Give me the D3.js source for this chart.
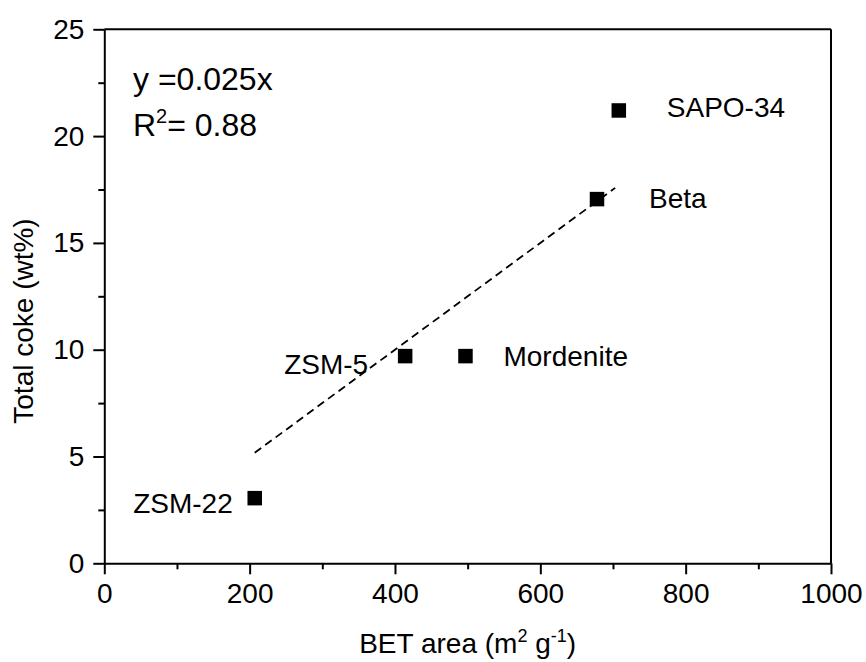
<!DOCTYPE html>
<html>
<head>
<meta charset="utf-8">
<script src="https://cdn.jsdelivr.net/npm/d3@7/dist/d3.min.js"></script>
<style>
  html, body { margin: 0; padding: 0; background: #fff; }
  svg { display: block; font-family: "Liberation Sans", Arial, sans-serif; }
</style>
</head>
<body>
<svg id="chart" width="866" height="662"></svg>
<script>
// Catalyst samples: BET surface area vs. total coke deposited
const samples = ["ZSM-22", "ZSM-5", "Mordenite", "Beta", "SAPO-34"];
const betArea = [207, 414, 497, 678, 708];
const totalCoke = [3.05, 9.7, 9.7, 17.05, 21.2];

// Linear fit through the origin
const fitSlope = 0.025;
const fitR2 = 0.88;
const fitRange = [207, 703];

// Axis ticks
const xTicks = [0, 200, 400, 600, 800, 1000];
const xMinorTicks = [100, 300, 500, 700, 900];
const yTicks = [0, 5, 10, 15, 20, 25];
const yMinorTicks = [2.5, 7.5, 12.5, 17.5, 22.5];

// Label placement relative to each marker (pixels)
const labelPlacement = {
  "ZSM-22":    { dx: -22, dy: 15, anchor: "end" },
  "ZSM-5":     { dx: -37, dy: 18, anchor: "end" },
  "Mordenite": { dx: 38,  dy: 10, anchor: "start" },
  "Beta":      { dx: 52,  dy: 9,  anchor: "start" },
  "SAPO-34":   { dx: 48,  dy: 7,  anchor: "start" }
};

const W = 866, H = 662;
const margin = { left: 104.3, right: 35, top: 29.3, bottom: 98.7 };
const svg = d3.select("#chart");

const x = d3.scaleLinear().domain([0, 1000]).range([margin.left, W - margin.right]);
const y = d3.scaleLinear().domain([0, 25]).range([H - margin.bottom, margin.top]);

const axisColor = "#000";
const tickFont = 28;

// Frame: top and right edges
svg.append("line")
  .attr("x1", x(0)).attr("x2", x(1000)).attr("y1", y(25)).attr("y2", y(25))
  .attr("stroke", axisColor).attr("stroke-width", 2);
svg.append("line")
  .attr("x1", x(1000)).attr("x2", x(1000)).attr("y1", y(0)).attr("y2", y(25))
  .attr("stroke", axisColor).attr("stroke-width", 2);

// Bottom axis
svg.append("g")
  .attr("transform", `translate(0,${y(0)})`)
  .call(d3.axisBottom(x).tickValues(xTicks).tickFormat(d3.format("d"))
    .tickSize(11).tickPadding(9).tickSizeOuter(0));
svg.append("g")
  .attr("transform", `translate(0,${y(0)})`)
  .call(d3.axisBottom(x).tickValues(xMinorTicks).tickSize(6).tickFormat("").tickSizeOuter(0))
  .select(".domain").remove();

// Left axis
svg.append("g")
  .attr("transform", `translate(${x(0)},0)`)
  .call(d3.axisLeft(y).tickValues(yTicks).tickFormat(d3.format("d"))
    .tickSize(11).tickPadding(9).tickSizeOuter(0));
svg.append("g")
  .attr("transform", `translate(${x(0)},0)`)
  .call(d3.axisLeft(y).tickValues(yMinorTicks).tickSize(6).tickFormat("").tickSizeOuter(0))
  .select(".domain").remove();

svg.selectAll(".domain").attr("stroke", axisColor).attr("stroke-width", 2);
svg.selectAll(".tick line").attr("stroke", axisColor).attr("stroke-width", 2);
svg.selectAll(".tick text")
  .attr("fill", "#000")
  .style("font-size", tickFont + "px")
  .style("font-family", "'Liberation Sans', Arial, sans-serif");

// Axis titles
const xTitle = svg.append("text")
  .attr("x", (x(0) + x(1000)) / 2)
  .attr("y", 653)
  .attr("text-anchor", "middle")
  .style("font-size", "28px");
xTitle.append("tspan").text("BET area (m");
xTitle.append("tspan").attr("dy", -11).style("font-size", "18px").text("2");
xTitle.append("tspan").attr("dy", 11).text(" g");
xTitle.append("tspan").attr("dy", -11).style("font-size", "18px").text("-1");
xTitle.append("tspan").attr("dy", 11).text(")");

svg.append("text")
  .attr("transform", "translate(33,321) rotate(-90)")
  .attr("text-anchor", "middle")
  .style("font-size", "28px")
  .text("Total coke (wt%)");

// Fit line
svg.append("line")
  .attr("x1", x(fitRange[0])).attr("y1", y(fitSlope * fitRange[0]))
  .attr("x2", x(fitRange[1])).attr("y2", y(fitSlope * fitRange[1]))
  .attr("stroke", "#000").attr("stroke-width", 1.8)
  .attr("stroke-dasharray", "8,5");

// Markers
const pts = samples.map((s, i) => ({ name: s, bet: betArea[i], coke: totalCoke[i] }));
const sq = 14.5;
svg.append("g").selectAll("rect").data(pts).join("rect")
  .attr("x", d => x(d.bet) - sq / 2)
  .attr("y", d => y(d.coke) - sq / 2)
  .attr("width", sq).attr("height", sq)
  .attr("fill", "#000");

// Sample labels
svg.append("g").selectAll("text").data(pts).join("text")
  .attr("x", d => x(d.bet) + labelPlacement[d.name].dx)
  .attr("y", d => y(d.coke) + labelPlacement[d.name].dy)
  .attr("text-anchor", d => labelPlacement[d.name].anchor)
  .style("font-size", "28px")
  .text(d => d.name);

// Fit equation
svg.append("text")
  .attr("x", 133).attr("y", 90)
  .style("font-size", "32px")
  .text(`y =${fitSlope}x`);
const r2 = svg.append("text")
  .attr("x", 133).attr("y", 136)
  .style("font-size", "32px");
r2.append("tspan").text("R");
r2.append("tspan").attr("dy", -13).style("font-size", "20px").text("2");
r2.append("tspan").attr("dy", 13).text(`= ${fitR2}`);
</script>
</body>
</html>
